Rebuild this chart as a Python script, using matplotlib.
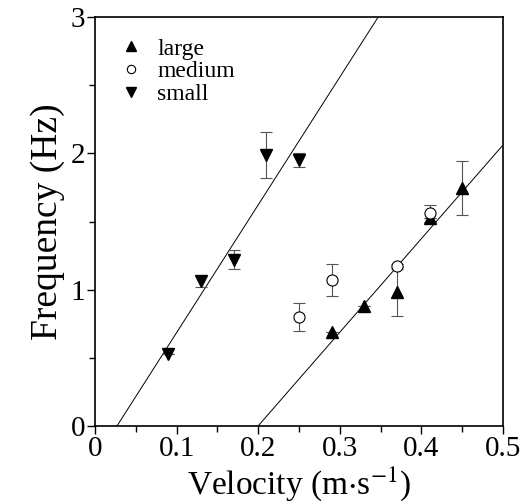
import matplotlib
matplotlib.use("Agg")
import matplotlib.pyplot as plt
import numpy as np

plt.rcParams['font.family'] = ['Liberation Serif', 'DejaVu Serif']
plt.rcParams['mathtext.fontset'] = 'stix'

# small fish (down triangles)
small_v = [0.09, 0.13, 0.17, 0.21, 0.25]
small_f = [0.53, 1.06, 1.22, 1.99, 1.95]
small_err = [0.0, 0.04, 0.07, 0.17, 0.05]

# medium fish (open circles)
medium_v = [0.25, 0.29, 0.37, 0.41]
medium_f = [0.80, 1.07, 1.17, 1.56]
medium_err = [0.10, 0.12, 0.02, 0.06]

# large fish (up triangles)
large_v = [0.29, 0.33, 0.37, 0.41, 0.45]
large_f = [0.69, 0.88, 0.985, 1.525, 1.745]
large_err = [0.0, 0.0, 0.18, 0.0, 0.20]

# regression lines: f = slope * v + intercept
small_slope, small_icpt = 9.375, -0.253
large_slope, large_icpt = 6.87, -1.374

fig = plt.figure(figsize=(5.25, 5.04), dpi=100)
ax = fig.add_axes([0.181, 0.155, 0.777, 0.811])

v = np.array([0.0, 0.5])
ax.plot(v, small_slope * v + small_icpt, color='black', lw=0.7)
ax.plot(v, large_slope * v + large_icpt, color='black', lw=0.7)

eb = dict(ecolor='#555555', elinewidth=0.8, capsize=4.5, capthick=0.8, ls='none')
ax.errorbar(large_v, large_f, yerr=large_err, fmt='^', color='black',
            ms=9, label='large', **eb)
ax.errorbar(medium_v, medium_f, yerr=medium_err, fmt='o', mfc='white',
            mec='black', mew=0.8, ms=8, label='medium', **eb)
ax.errorbar(small_v, small_f, yerr=small_err, fmt='v', color='black',
            ms=9, label='small', **eb)

ax.set_xlim(0, 0.5)
ax.set_ylim(0, 3)
ax.set_xticks([0, 0.1, 0.2, 0.3, 0.4, 0.5])
ax.set_xticklabels(['0', '0.1', '0.2', '0.3', '0.4', '0.5'])
ax.set_xticks(np.arange(0.05, 0.5, 0.1), minor=True)
ax.set_yticks([0, 1, 2, 3])
ax.set_yticks([0.5, 1.5, 2.5], minor=True)
ax.tick_params(which='both', direction='out', labelsize=21, width=1, pad=1)
ax.tick_params(which='major', length=6)
ax.tick_params(which='minor', length=4)
for s in ax.spines.values():
    s.set_linewidth(1.2)

ax.set_xlabel(r'Velocity (m$\cdot$s$^{\mathrm{-1}}$)', fontsize=24, labelpad=2)
ax.set_ylabel('Frequency (Hz)', fontsize=27, labelpad=4)

handles, labels = ax.get_legend_handles_labels()
hs = [h[0] for h in handles]
ax.legend(hs, labels, loc='upper left', frameon=False, fontsize=17,
          handletextpad=0.55, labelspacing=0.05, borderaxespad=0,
          handlelength=1.1, markerscale=0.75, bbox_to_anchor=(0.034, 0.972))

fig.savefig('out.png', dpi=100)
